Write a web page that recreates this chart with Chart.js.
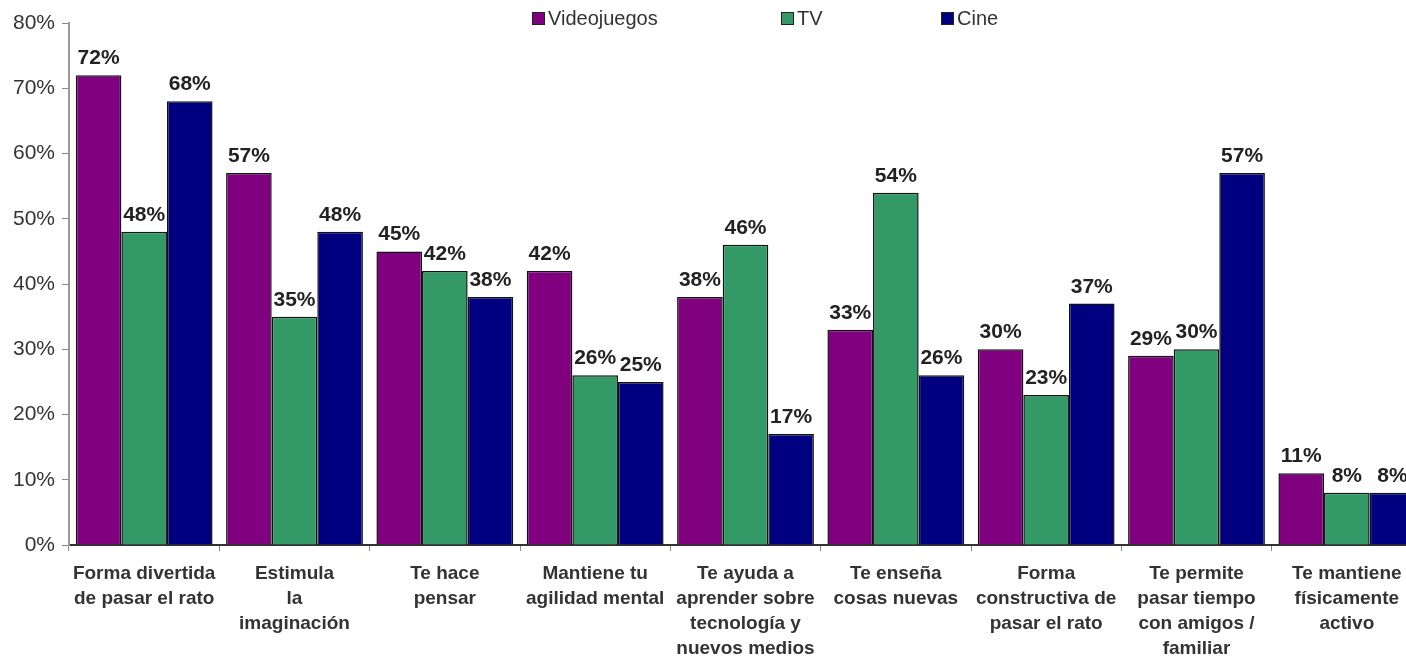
<!DOCTYPE html>
<html>
<head>
<meta charset="utf-8">
<script src="https://cdn.jsdelivr.net/npm/chart.js@4"></script>
<style>
  html, body { margin: 0; padding: 0; background: #fff; overflow: hidden; }
  #wrap { position: relative; width: 1425px; height: 658px; }
  .lg { position: absolute; top: 7px; font: 20px "Liberation Sans", Arial, sans-serif; color: #333; white-space: nowrap; }
  .lg i { display: inline-block; width: 11px; height: 11px; border: 1px solid #222; margin-right: 3px; vertical-align: 0px; }
</style>
</head>
<body>
<div id="wrap">
  <canvas id="myChart"></canvas>
  <div class="lg" style="left:532px"><i style="background:#800080"></i>Videojuegos</div>
  <div class="lg" style="left:781px"><i style="background:#339966"></i>TV</div>
  <div class="lg" style="left:941px"><i style="background:#000080"></i>Cine</div>
</div>
<script>
// categories (one array of lines per label)
var categories = [
  ['Forma divertida', 'de pasar el rato'],
  ['Estimula', 'la', 'imaginación'],
  ['Te hace', 'pensar'],
  ['Mantiene tu', 'agilidad mental'],
  ['Te ayuda a', 'aprender sobre', 'tecnología y', 'nuevos medios'],
  ['Te enseña', 'cosas nuevas'],
  ['Forma', 'constructiva de', 'pasar el rato'],
  ['Te permite', 'pasar tiempo', 'con amigos /', 'familiar'],
  ['Te mantiene', 'físicamente', 'activo']
];

// series values (%)
var videojuegos = [72, 57, 45, 42, 38, 33, 30, 29, 11];
var tv          = [48, 35, 42, 26, 46, 54, 23, 30, 8];
var cine        = [68, 48, 38, 25, 17, 26, 37, 57, 8];

// y axis ticks
var yTicks = [0, 10, 20, 30, 40, 50, 60, 70, 80];

var FONT = '"Liberation Sans", Arial, sans-serif';

// draws the value above each bar
var valueLabels = {
  id: 'valueLabels',
  afterDatasetsDraw: function(chart) {
    var ctx = chart.ctx;
    ctx.save();
    ctx.font = 'bold 21px ' + FONT;
    ctx.fillStyle = '#222';
    ctx.textAlign = 'center';
    ctx.textBaseline = 'alphabetic';
    chart.data.datasets.forEach(function(ds, i) {
      var meta = chart.getDatasetMeta(i);
      meta.data.forEach(function(bar, j) {
        ctx.fillText(ds.data[j] + '%', bar.x, bar.y - 11);
      });
    });
    ctx.restore();
  }
};

var ctx = document.getElementById('myChart').getContext('2d');
var myChart = new Chart(ctx, {
  type: 'bar',
  data: {
    labels: categories,
    datasets: [
      { label: 'Videojuegos', data: videojuegos, backgroundColor: '#800080', borderColor: '#111', borderWidth: 1.5 },
      { label: 'TV', data: tv, backgroundColor: '#339966', borderColor: '#111', borderWidth: 1.5 },
      { label: 'Cine', data: cine, backgroundColor: '#000080', borderColor: '#111', borderWidth: 1.5 }
    ]
  },
  options: {
    responsive: true,
    maintainAspectRatio: false,
    animation: false,
    layout: { padding: { top: 23, right: 3, left: 0, bottom: 0 } },
    plugins: {
      legend: { display: false },
      tooltip: { enabled: false }
    },
    datasets: {
      bar: { categoryPercentage: 0.91, barPercentage: 1 }
    },
    scales: {
      x: {
        grid: { offset: true, drawOnChartArea: false, drawTicks: true, tickLength: 6, color: '#888' },
        border: { color: '#333', width: 2 },
        ticks: {
          font: { family: FONT, size: 19, weight: 'bold', lineHeight: 1.32 },
          color: '#333',
          padding: 10,
          maxRotation: 0,
          autoSkip: false
        },
        afterFit: function(scale) { scale.height = 113; }
      },
      y: {
        min: 0,
        max: 80,
        afterBuildTicks: function(scale) {
          scale.ticks = yTicks.map(function(v) { return { value: v }; });
        },
        grid: { drawOnChartArea: false, drawTicks: true, tickLength: 7, color: '#888' },
        border: { color: '#999', width: 2 },
        ticks: {
          font: { family: FONT, size: 21 },
          color: '#333',
          padding: 7,
          callback: function(v) { return v + '%'; }
        },
        afterFit: function(scale) { scale.width = 69; }
      }
    }
  },
  plugins: [valueLabels]
});
</script>
</body>
</html>
